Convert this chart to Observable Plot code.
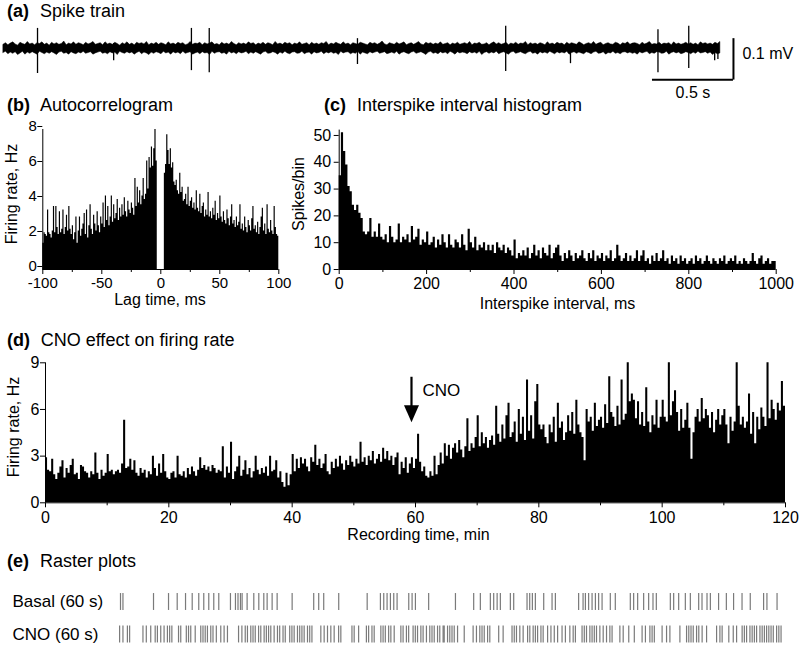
<!DOCTYPE html>
<html><head><meta charset="utf-8">
<script src="https://cdn.jsdelivr.net/npm/d3@7"></script>
<script src="https://cdn.jsdelivr.net/npm/@observablehq/plot@0.6"></script>
<style>
body{margin:0;background:#fff;}
#root{position:relative;width:800px;height:646px;overflow:hidden;font-family:"Liberation Sans",Arial,sans-serif;color:#000;background:#fff;}
.lbl{position:absolute;white-space:nowrap;}
</style></head><body><div id="root"></div>
<script>
// ---------- DATA ----------
// (a) spike train: noise envelope (µV above / below baseline) sampled every 15 ms, spikes (s, µV)
const envStep = 0.015;
const traceDuration = 4.426;
const envUpper = [
9,13,8,12,15,10,7,14,11,9, 16,10,12,8,13,11,15,9,12,7, 14,10,13,9,11,17,8,12,10,15,
9,13,11,8,14,10,12,16,9,11, 13,8,15,10,12,9,14,11,7,13, 10,15,9,12,8,14,11,13,10,16,
8,12,10,14,9,13,11,8,15,10, 12,9,14,11,13,8,10,16,9,12, 11,14,8,13,10,12,15,9,11,8,
14,10,12,9,16,11,8,13,10,12, 9,15,11,13,8,12,10,14,9,13, 11,8,16,10,12,9,14,11,13,8,
12,10,15,9,11,13,8,14,10,12, 9,13,11,16,8,12,10,14,11,9, 15,10,12,8,13,11,9,14,12,10,
8,14,11,13,9,12,17,10,8,13, 11,9,14,10,12,15,8,11,13,9, 12,16,10,8,14,11,13,9,12,10,
15,9,11,13,8,12,10,14,9,11, 13,10,16,8,12,11,14,9,10,13, 8,12,15,10,13,9,11,14,8,12,
10,14,9,12,11,16,8,13,10,12, 9,13,11,8,15,10,12,9,14,11, 12,8,14,10,13,11,9,15,12,8,
11,13,10,16,9,12,14,8,11,13, 10,9,14,12,8,13,11,15,9,12, 13,11,8,14,10,12,16,9,11,10,
14,9,12,11,13,8,15,10,12,9, 11,14,10,13,9,12,8,15,11,13, 10,12,9,14,11,16];
const envLower = [
11,8,14,10,13,9,16,12,8,15, 10,13,9,12,15,8,11,14,10,13, 9,12,16,10,8,13,11,15,9,12,
14,10,12,8,13,11,9,15,12,10, 8,13,11,14,9,12,10,16,8,11, 13,9,12,10,15,11,8,14,10,12,
16,10,13,9,11,14,8,12,10,15, 9,12,10,14,8,13,11,9,15,12, 10,14,9,12,11,16,8,13,10,9,
13,11,15,8,12,10,14,9,12,11, 8,14,10,13,9,12,15,10,8,13, 12,9,11,15,10,13,8,12,14,10,
9,13,12,8,14,11,10,15,9,12, 11,8,14,10,12,9,13,11,16,8, 12,10,9,14,11,13,8,15,10,12,
14,9,12,10,8,13,11,9,14,12, 10,13,8,15,11,9,12,14,10,8, 13,11,9,12,16,10,8,13,11,14,
9,12,10,14,8,11,15,9,12,10, 11,14,9,12,10,13,8,16,11,9, 13,10,12,8,14,11,9,12,15,10,
8,13,11,9,12,14,10,8,13,11, 15,9,12,10,13,8,11,14,9,12, 10,12,8,15,11,9,13,10,12,14,
9,11,14,10,8,13,12,9,15,11, 12,8,13,11,14,10,9,12,10,13, 11,15,9,12,10,8,14,11,13,9,
10,13,12,8,15,11,9,12,10,14, 12,9,11,14,10,13,8,12,11,9, 13,10,16,11,14,12];
const spikeTimes  = [0.21, 0.68, 1.16, 1.27, 2.185, 3.10, 3.50, 4.04, 4.23, 4.39, 4.41];
const spikeTop    = [49, 12, 49, 49, 24, 54, 10, 46, 54, 10, 10];
const spikeBottom = [61, 30, 54, 59, 39, 56, 37, 59, 49, 30, 27];
const scaleBarTime = 0.5;   // s
const scaleBarVolt = 100;   // µV = 0.1 mV
const scaleBarLabels = ["0.1 mV", "0.5 s"];

// (b) autocorrelogram, 1 ms bins from -100 to +100 ms (Hz)
const acgStart = -100, acgBin = 1;
const acgRate = [
1.5,2.1,2.0,1.9,3.4,2.1,2.0,1.8,2.2,3.6,
2.1,3.6,2.4,2.0,3.3,2.1,2.3,3.4,2.0,2.4,
3.1,2.2,3.6,2.3,2.0,2.5,1.7,2.1,3.0,1.5,
2.2,3.0,1.9,2.3,2.6,3.2,2.0,3.4,1.8,2.5,
3.7,2.3,2.0,3.1,2.6,2.2,3.3,2.5,2.1,3.0,
2.6,3.8,2.4,4.2,2.8,3.6,2.5,3.0,4.2,2.7,
3.7,2.9,3.2,4.0,2.8,3.5,3.0,3.7,3.1,4.1,
3.3,3.0,3.9,3.4,3.2,3.8,3.5,3.1,5.2,3.6,
4.7,3.8,4.5,3.7,4.2,5.2,4.0,4.3,6.2,4.6,
6.4,5.8,7.0,5.9,6.9,8.0,6.2,0,0,0,
0,0,0,5.5,6.0,7.7,6.8,6.0,6.9,5.8,
6.1,5.0,4.8,5.1,4.5,4.3,5.5,4.4,4.7,3.9,
4.0,4.3,3.7,4.7,3.6,3.9,4.1,3.5,3.8,3.4,
4.5,3.5,3.3,4.3,3.2,3.6,3.8,3.0,3.4,3.1,
4.4,3.0,3.3,2.9,3.5,3.1,3.9,2.8,3.2,2.9,
4.2,3.0,2.7,3.3,2.8,2.6,3.4,2.9,2.5,3.0,
3.7,2.6,2.8,2.4,3.0,2.5,2.7,3.7,2.3,2.6,
2.2,3.0,2.4,2.1,2.8,2.5,2.2,2.9,3.6,2.3,
2.5,2.1,2.7,2.0,2.4,3.0,3.5,2.2,2.6,2.0,
3.7,2.3,2.1,2.8,2.2,2.0,3.6,2.4,2.0,1.9];
const acgTicks = [-100,-50,0,50,100], acgMinor = [-75,-25,25,75], acgYTicks = [0,2,4,6,8];

// (c) interspike interval histogram, 5 ms bins 0-1000 ms (spikes/bin)
const isiStart = 0, isiBin = 5;
const isiCount = [
35,51,44,39,31,29,24,22,24,21,
19,14,13,14,19,12,14,12,17,12,
11,13,10,16,12,10,11,17,10,12,
11,13,10,16,11,12,15,9,11,10,
14,9,10,12,8,11,9,13,10,8,
13,9,8,11,10,8,13,9,7,15,
10,8,12,7,9,8,10,7,9,7,
9,6,10,8,7,9,6,8,7,5,
11,4,6,5,7,5,8,4,6,9,
5,7,4,8,6,5,9,4,6,8,
9,5,3,6,4,7,5,3,6,4,
5,7,4,3,6,4,7,3,5,4,
6,3,5,4,7,3,4,9,5,3,
4,6,3,5,3,4,7,3,5,7,
3,4,2,5,3,6,3,4,7,3,
4,2,5,3,4,2,5,3,4,2,
3,4,2,5,3,4,2,3,5,3,
2,4,3,2,4,3,5,2,3,4,
3,5,2,3,2,4,3,2,3,6,
3,2,4,5,2,3,4,2,3,3];
const isiTicks = [0,200,400,600,800,1000], isiMinor = [100,300,500,700,900], isiYTicks = [0,10,20,30,40,50];

// (d) firing rate over recording, 20 s bins 0-120 min (Hz)
const rateStart = 0, rateBinMin = 1/3;
const firingRate = [
2.9,2.1,2.0,2.8,1.8,1.5,1.9,2.3,2.7,1.6,2.2,1.9,2.4,2.8,1.8,
1.9,1.5,2.4,2.3,2.0,1.9,1.6,2.0,1.8,3.2,1.9,1.5,2.1,1.7,1.9,
3.1,2.0,2.1,1.8,2.0,2.1,1.9,2.5,5.3,2.2,2.3,2.8,2.1,2.7,1.9,
1.7,2.2,1.9,2.1,1.6,2.0,1.8,3.0,2.2,1.7,2.5,1.9,3.1,2.0,1.6,
1.5,1.9,2.0,1.6,3.0,1.8,1.7,2.0,1.6,2.2,1.8,2.3,2.0,1.7,2.1,
2.9,2.2,2.4,2.1,2.3,2.0,2.4,2.2,1.9,2.1,2.0,3.6,1.6,2.3,1.9,
3.9,1.5,2.0,2.3,3.0,1.7,2.1,2.7,1.8,2.2,1.6,2.0,3.0,2.1,1.8,
2.2,1.9,2.3,1.7,3.0,2.0,2.1,2.7,1.6,2.0,1.3,1.0,1.9,1.1,1.8,
3.1,2.0,2.8,2.2,2.9,2.5,2.8,2.3,2.0,2.9,2.6,3.7,2.4,2.8,2.2,
2.5,3.1,2.0,1.8,2.6,2.2,2.8,2.3,3.0,2.5,2.1,2.7,2.4,3.0,2.6,
2.3,2.8,2.5,3.9,2.6,2.9,2.4,3.0,2.7,3.3,2.5,2.8,3.1,2.6,3.5,
2.8,3.3,2.7,3.0,2.4,2.9,3.2,1.8,2.6,2.2,2.9,1.9,2.5,2.9,2.2,
2.8,4.4,2.6,2.0,2.3,1.7,1.6,2.0,1.7,3.0,1.8,2.4,3.2,2.5,3.8,
3.0,3.7,2.8,3.5,3.8,3.2,4.0,3.4,2.9,3.6,5.4,3.3,3.8,3.5,4.2,
5.6,3.6,4.5,3.8,4.2,3.5,4.0,4.3,3.7,6.2,4.4,3.9,5.0,4.1,5.6,
6.4,4.2,4.5,5.2,3.9,6.0,4.4,5.5,4.0,7.9,4.6,5.6,4.1,6.5,7.6,
5.0,4.7,5.0,4.2,3.8,5.0,4.5,5.5,3.9,6.4,4.8,5.2,4.0,4.5,5.6,
4.6,5.8,4.4,6.6,5.0,4.5,4.2,2.7,6.0,5.2,5.5,4.6,6.4,4.9,5.3,
5.5,4.8,6.3,5.1,8.1,5.8,5.5,4.9,6.2,5.0,7.9,5.3,5.7,9.0,6.5,
7.0,6.6,5.4,6.5,5.0,5.8,4.9,7.4,5.2,4.5,5.6,5.0,6.6,4.8,5.5,
6.6,5.5,5.2,9.0,5.6,6.5,7.2,5.8,4.6,6.0,4.8,5.3,6.4,4.8,2.8,
4.5,5.5,6.0,5.2,6.7,5.4,6.0,5.6,4.8,5.8,4.5,5.3,6.0,5.0,5.6,
6.0,5.0,3.8,5.5,4.6,5.2,9.0,6.2,5.0,5.5,4.8,5.2,7.0,4.4,5.8,
3.8,5.5,4.7,6.1,5.5,4.9,9.0,5.4,6.6,6.0,5.3,6.4,5.9,7.8,6.2];
const rateTicks = [0,20,40,60,80,100,120], rateMinor = [10,30,50,70,90,110], rateYTicks = [0,3,6,9];
const cnoTime = 59.35, cnoLabel = "CNO";

// (e) raster plots: spike times (s) in 60 s windows
const rasterRows = ["Basal (60 s)", "CNO (60 s)"];
const basalSpikes = [0.18,0.40,3.15,4.50,5.28,6.03,6.63,7.22,7.67,8.12,8.57,9.02,10.07,10.52,10.75,10.97,11.12,11.57,12.17,12.62,13.07,13.37,13.82,14.27,15.62,17.56,18.01,18.46,19.81,22.37,23.56,23.86,24.16,24.46,24.76,25.06,26.11,26.41,26.71,27.90,30.31,31.95,32.55,33.45,33.75,34.06,34.35,35.25,35.55,36.75,36.99,37.23,37.50,38.25,39.00,39.30,41.39,41.79,42.00,42.29,42.60,42.90,43.19,43.50,44.24,44.69,46.04,46.34,46.70,47.24,47.69,48.08,48.38,49.64,49.94,50.39,50.99,51.44,52.19,52.49,52.94,53.24,53.98,54.68,55.33,56.09,56.83,58.03,58.33,59.24];
const cnoSpikes = [0.1,0.4,0.8,1.0,2.2,2.5,2.9,3.3,3.5,3.8,4.1,4.4,4.6,4.8,5.4,5.6,6.1,6.3,6.5,6.9,7.4,7.6,7.8,8.0,8.3,8.5,8.8,9.2,9.5,9.8,10.8,11.1,11.4,11.6,11.9,12.1,12.3,12.6,12.8,13.1,13.3,13.5,13.7,14.0,14.3,14.5,14.8,15.0,15.4,15.6,15.8,16.1,16.3,16.5,16.7,17.0,17.2,17.4,18.2,18.5,18.8,19.1,19.4,19.8,20.0,21.0,21.2,21.6,22.3,22.5,22.8,23.0,23.6,23.8,24.0,24.3,24.5,24.8,25.4,25.6,25.9,26.1,26.5,26.7,26.9,27.2,27.4,27.7,28.0,28.2,28.4,28.7,28.9,29.2,29.3,29.6,29.8,30.0,30.2,30.5,31.1,31.9,32.2,32.5,32.7,32.9,33.2,33.4,34.2,34.6,35.4,35.6,35.8,36.1,36.4,36.8,37.0,37.3,37.5,37.7,38.0,38.2,38.6,38.9,39.2,39.5,39.9,40.2,40.6,40.9,41.1,41.7,41.9,42.1,42.4,42.6,42.8,43.0,43.3,43.6,43.9,44.2,44.4,45.1,45.4,45.9,46.4,47.1,47.4,47.8,48.0,48.2,48.9,49.3,49.6,50.5,51.1,51.3,51.5,51.7,52.0,52.2,52.5,52.9,53.8,54.1,54.3,54.9,55.3,55.6,56.1,56.3,56.5,56.8,57.0,57.2,57.4,57.7,57.9,58.1,58.3,58.5,58.7,58.9,59.2,59.4,59.6];

// titles & axis labels
const panelTags = ["(a)","(b)","(c)","(d)","(e)"];
const panelTitles = ["Spike train","Autocorrelogram","Interspike interval histogram","CNO effect on firing rate","Raster plots"];
const axisLabels = ["Lag time, ms","Firing rate, Hz","Interspike interval, ms","Spikes/bin","Recording time, min","Firing rate, Hz"];

// ---------- RENDER ----------
const root = document.getElementById("root");
const FONT = '"Liberation Sans", Arial, sans-serif';
function mount(svg){ root.appendChild(svg); }
function styleObj(){ return {position:"absolute", left:"0px", top:"0px", background:"none", overflow:"visible", fontFamily:FONT, fontSize:"16px", color:"#000"}; }
function put(txt, css){ const d=document.createElement("div"); d.className="lbl"; d.textContent=txt; Object.assign(d.style, css); root.appendChild(d); return d; }
function textAt(txt, x, base, size, bold){ return put(txt,{left:x+"px", top:(base-0.7465*size)+"px", fontSize:size+"px", lineHeight:(0.8*size)+"px", fontWeight:bold?"bold":"normal"}); }
function centerAt(txt, cx, base, size){ return put(txt,{left:cx+"px", top:(base-0.7465*size)+"px", fontSize:size+"px", lineHeight:(0.8*size)+"px", transform:"translateX(-50%)"}); }
function vertAt(txt, baseX, cy, size){ return put(txt,{left:(baseX-0.3465*size)+"px", top:cy+"px", fontSize:size+"px", lineHeight:(0.8*size)+"px", transform:"translate(-50%,-50%) rotate(-90deg)"}); }
// histogram bins -> step outline points (one per bin start, plus the closing edge)
function steps(values, start, bin){
  const pts = values.map((v,i)=>({x:start+i*bin, v}));
  pts.push({x:start+values.length*bin, v:values[values.length-1]});
  return pts;
}
const histStyle = {x:"x", y:"v", curve:"step-after", fill:"#000"};

// Panel (a)
const envData = envUpper.map((u,i)=>({t:i*envStep, hi:u, lo:-envLower[i]}));
const spikeData = spikeTimes.map((t,i)=>({t, top:spikeTop[i], bot:-spikeBottom[i]}));
const barAnchor = {t: traceDuration + 0.08, v: -76};
mount(Plot.plot({
  width:800, height:646, marginLeft:3, marginRight:80, marginTop:7, marginBottom:557,
  x:{domain:[0,traceDuration], axis:null}, y:{domain:[-100,100], axis:null},
  style:styleObj(),
  marks:[
    Plot.areaY(envData,{x:"t", y1:"lo", y2:"hi", fill:"#000", stroke:"#000", strokeWidth:0.5}),
    Plot.ruleX(spikeData,{x:"t", y1:"bot", y2:"top", stroke:"#000", strokeWidth:1.3}),
    Plot.ruleY([barAnchor],{y:"v", x1:d=>d.t-scaleBarTime, x2:"t", stroke:"#000", strokeWidth:2}),
    Plot.ruleX([barAnchor],{x:"t", y1:d=>d.v-1, y2:d=>d.v+scaleBarVolt, stroke:"#000", strokeWidth:2}),
    Plot.text([barAnchor],{x:"t", y:d=>d.v+scaleBarVolt*0.62, text:()=>scaleBarLabels[0], textAnchor:"start", dx:9, fontSize:16, fill:"#000"}),
    Plot.text([barAnchor],{x:d=>d.t-scaleBarTime/2, y:"v", text:()=>scaleBarLabels[1], dy:13, fontSize:16, fill:"#000"})
  ]
}));

// Panel (b)
mount(Plot.plot({
  width:800, height:646, marginLeft:42.3, marginRight:521.7, marginTop:129, marginBottom:377,
  x:{domain:[-100,100]}, y:{domain:[0,8]},
  style:styleObj(),
  marks:[
    Plot.areaY(steps(acgRate, acgStart, acgBin), histStyle),
    Plot.ruleY([0],{stroke:"#000"}),
    Plot.ruleX([-100],{stroke:"#000"}),
    Plot.axisX({ticks:acgTicks, tickSize:5, tickPadding:3, fontSize:15, label:null, tickFormat:d=>String(d)}),
    Plot.axisX({ticks:acgMinor, tickSize:3, tickFormat:()=>"", label:null}),
    Plot.axisY({ticks:acgYTicks, tickSize:5, tickPadding:1, fontSize:15, dy:-3, label:null})
  ]
}));

// Panel (c)
mount(Plot.plot({
  width:800, height:646, marginLeft:338.7, marginRight:24.3, marginTop:129.6, marginBottom:377,
  x:{domain:[0,1000]}, y:{domain:[0,52]},
  style:styleObj(),
  marks:[
    Plot.areaY(steps(isiCount, isiStart, isiBin), histStyle),
    Plot.ruleY([0],{stroke:"#000"}),
    Plot.ruleX([0],{stroke:"#000"}),
    Plot.axisX({ticks:isiTicks, tickSize:5, tickPadding:3, fontSize:16, label:null, tickFormat:d=>String(d)}),
    Plot.axisX({ticks:isiMinor, tickSize:3, tickFormat:()=>"", label:null}),
    Plot.axisY({ticks:isiYTicks, tickSize:5, tickPadding:3, fontSize:16, label:null})
  ]
}));

// Panel (d)
const cnoArrow = [{t:cnoTime, top:8.07, tip:5.18, labelY:7.22, label:cnoLabel}];
const arrowHead = {draw(ctx){ ctx.moveTo(-7.5,-17); ctx.lineTo(7.5,-17); ctx.lineTo(0,0); ctx.closePath(); }};
mount(Plot.plot({
  width:800, height:646, marginLeft:45, marginRight:15, marginTop:362.3, marginBottom:143.7,
  x:{domain:[0,120]}, y:{domain:[0,9]},
  style:styleObj(),
  marks:[
    Plot.areaY(steps(firingRate, rateStart, rateBinMin), histStyle),
    Plot.ruleY([0],{stroke:"#000"}),
    Plot.ruleX([0],{stroke:"#000"}),
    Plot.axisX({ticks:rateTicks, tickSize:5, tickPadding:4, fontSize:16, label:null, tickFormat:d=>String(d)}),
    Plot.axisX({ticks:rateMinor, tickSize:3, tickFormat:()=>"", label:null}),
    Plot.axisY({ticks:rateYTicks, tickSize:5, tickPadding:1, fontSize:16, label:null}),
    Plot.ruleX(cnoArrow,{x:"t", y1:d=>d.tip+0.6, y2:"top", stroke:"#000", strokeWidth:2.2}),
    Plot.dot(cnoArrow,{x:"t", y:"tip", symbol:arrowHead, fill:"#000", stroke:null}),
    Plot.text(cnoArrow,{x:"t", y:"labelY", text:"label", textAnchor:"start", dx:11, fontSize:17, fill:"#000"})
  ]
}));

// Panel (e)
const rasterData = [
  ...basalSpikes.map(t=>({t, row:0})),
  ...cnoSpikes.map(t=>({t, row:1}))
];
mount(Plot.plot({
  width:800, height:646, marginLeft:118, marginRight:15, marginTop:601.5, marginBottom:12,
  x:{domain:[0,60], axis:null}, y:{domain:[0,1], reverse:true, axis:null},
  style:styleObj(),
  marks:[
    Plot.ruleX(rasterData,{x:"t", y1:d=>d.row-0.26, y2:d=>d.row+0.26, stroke:"#222", strokeOpacity:0.6, strokeWidth:1.2}),
    Plot.text(rasterRows,{y:(d,i)=>i, frameAnchor:"left", dx:-106, textAnchor:"start", text:d=>d, fontSize:17, fill:"#000"})
  ]
}));

// Titles
const titleGeom = [[7,40,17],[7,40,111],[324,357,111],[7,40.7,346],[7,40,567]];
panelTags.forEach((tag,i)=>{
  const [tx, nx, base] = titleGeom[i];
  textAt(tag, tx, base, 18, true);
  textAt(panelTitles[i], nx, base, 18, false);
});
// Axis labels
centerAt(axisLabels[0], 160, 305.5, 16);
vertAt(axisLabels[1], 17.5, 194, 16);
centerAt(axisLabels[2], 557.5, 310, 16);
vertAt(axisLabels[3], 304.5, 194, 16);
centerAt(axisLabels[4], 418.5, 540.5, 16);
vertAt(axisLabels[5], 19.8, 426.5, 16);
</script></body></html>
